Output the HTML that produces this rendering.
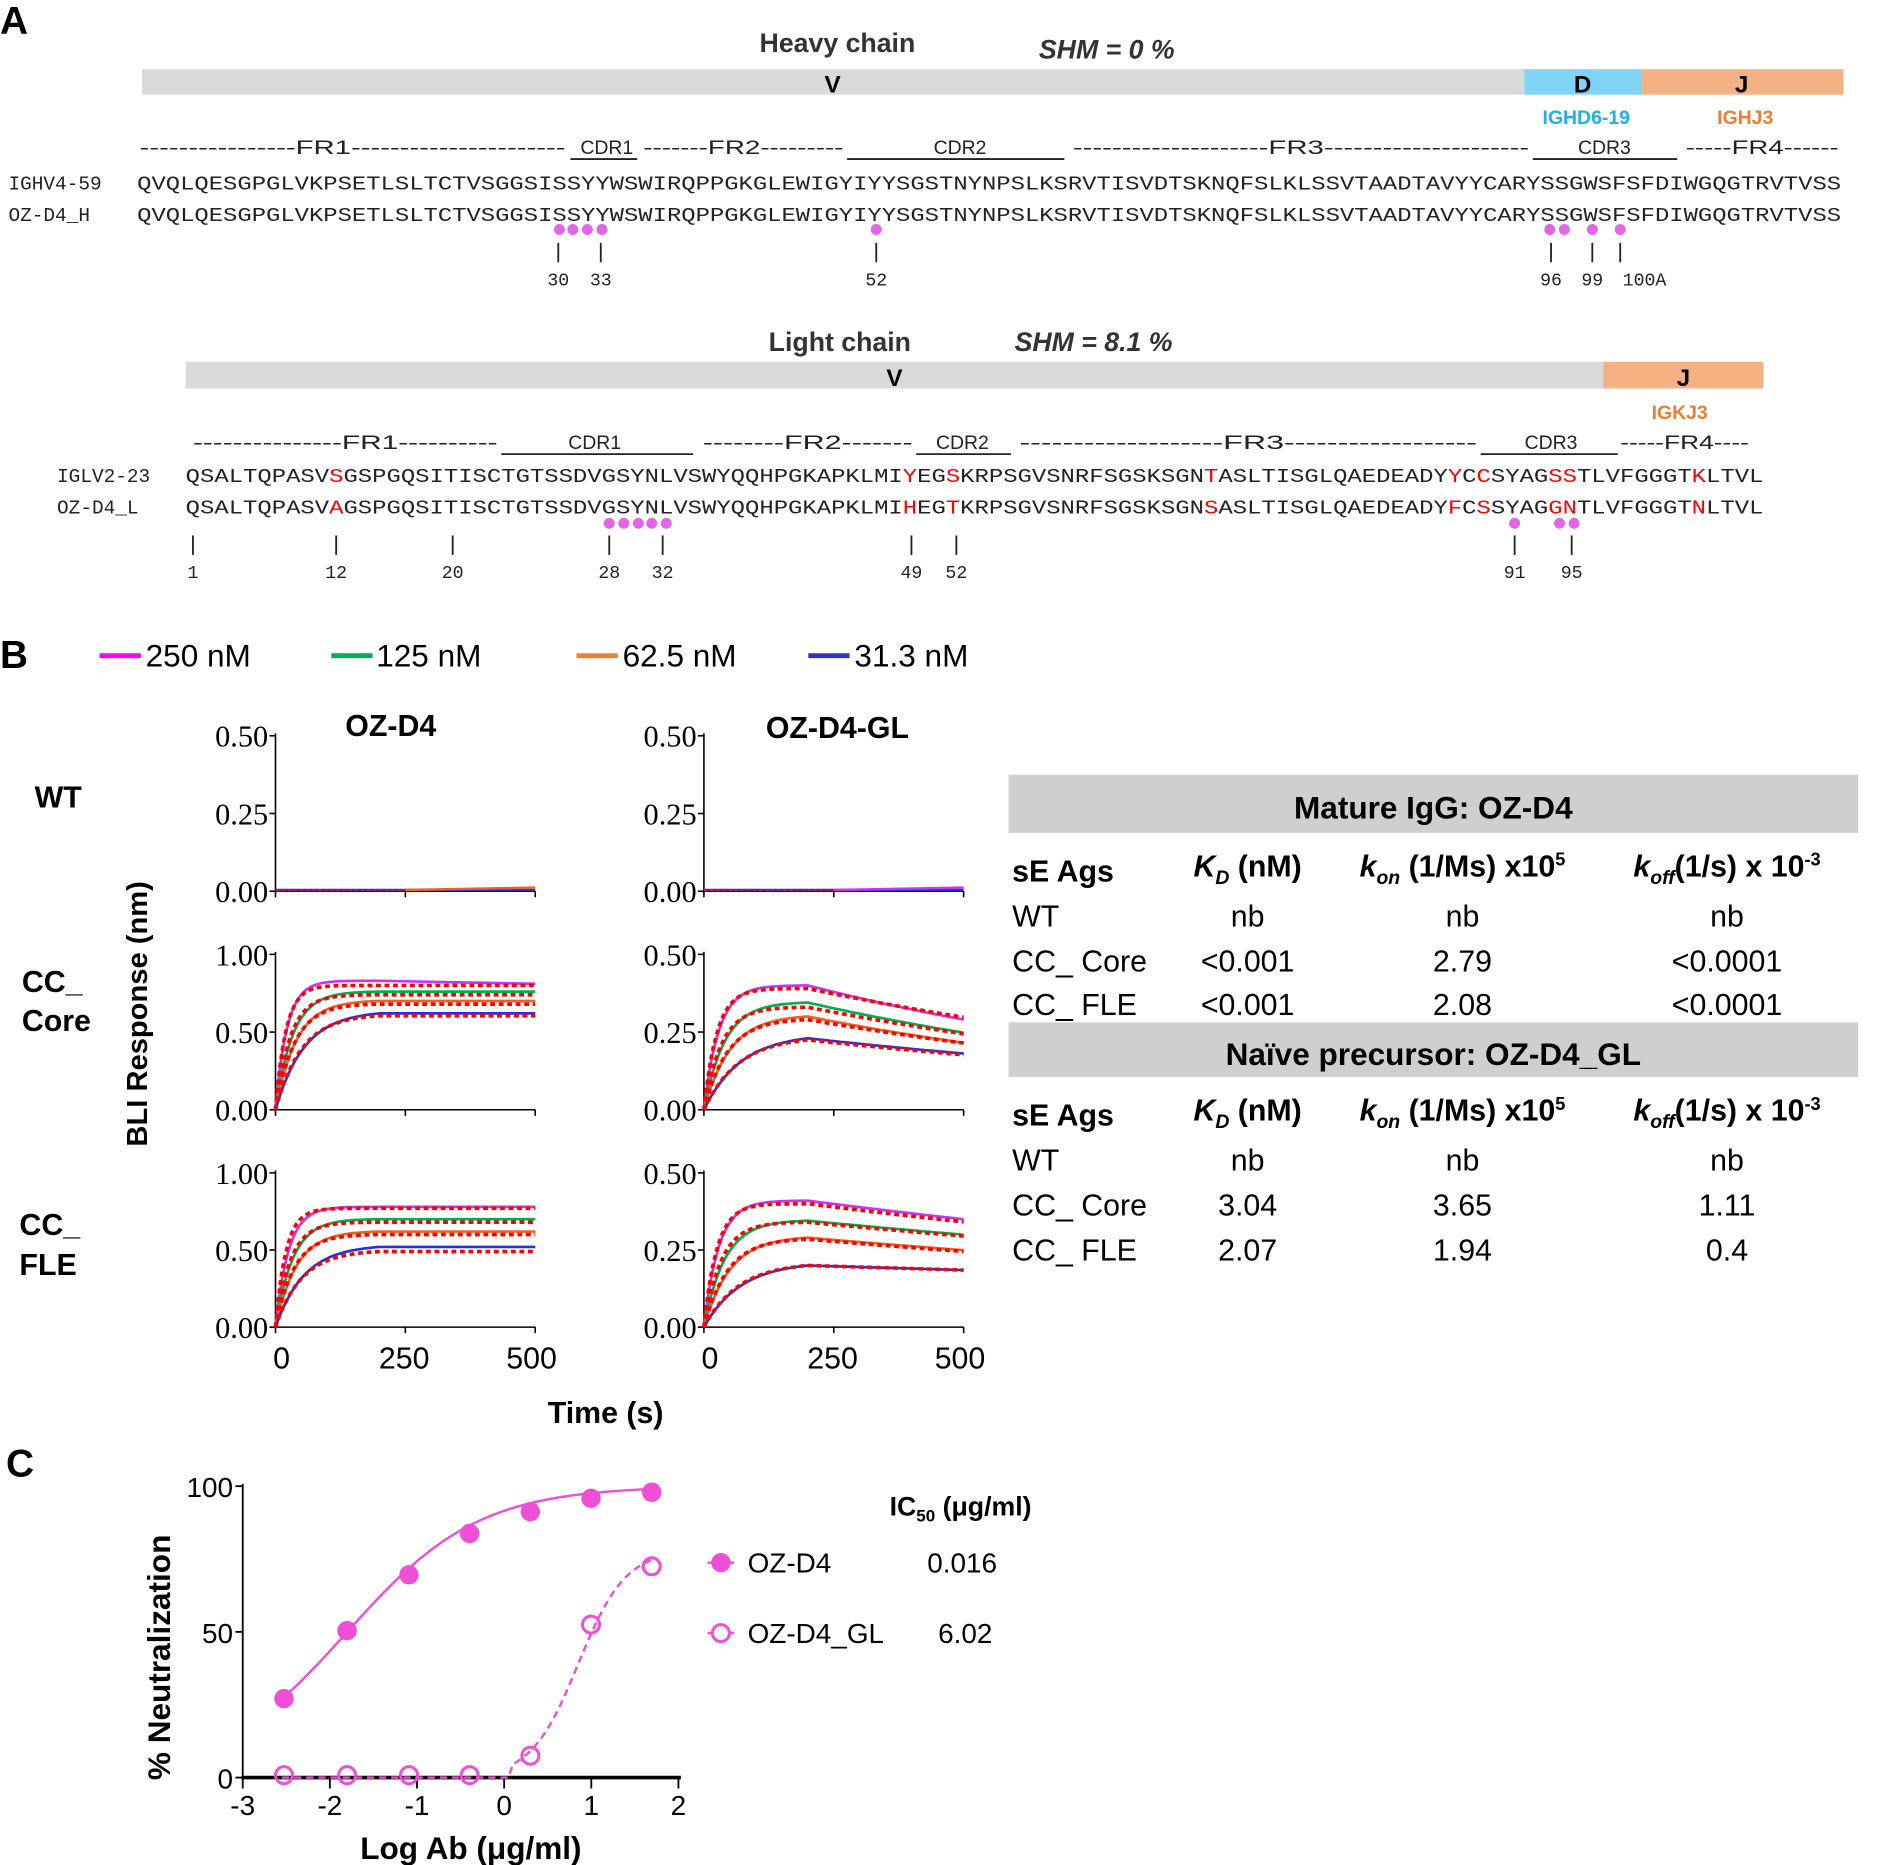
<!DOCTYPE html>
<html><head><meta charset="utf-8">
<style>
html,body{margin:0;padding:0;background:#fff;}
svg{display:block;}
.s{font-family:"Liberation Sans",sans-serif;}
.m{font-family:"Liberation Mono",monospace;}
.b{font-weight:bold;}
</style></head>
<body>
<svg id="svg" width="1903" height="1865" viewBox="0 0 1568 1536" preserveAspectRatio="none" xmlns="http://www.w3.org/2000/svg" class="s">
<!-- Panel A -->
<text x="0" y="28" font-size="32" class="b">A</text>
<text x="690" y="43" font-size="22" class="b" fill="#333" text-anchor="middle">Heavy chain</text>
<text x="856" y="48" font-size="22" class="b" fill="#333" font-style="italic">SHM = 0 %</text>
<rect x="117" y="57" width="1139" height="21" fill="#d9d9d9"/>
<rect x="1256" y="57" width="97" height="21" fill="#7fd3f7"/>
<rect x="1353" y="57" width="166" height="21" fill="#f4b183"/>
<text x="686" y="76" font-size="20" class="b" text-anchor="middle">V</text>
<text x="1304" y="76" font-size="20" class="b" text-anchor="middle">D</text>
<text x="1435" y="76" font-size="20" class="b" text-anchor="middle">J</text>
<text x="1307" y="102" font-size="16" class="b" fill="#1ab0e8" text-anchor="middle">IGHD6-19</text>
<text x="1438" y="102" font-size="16" class="b" fill="#ed7d31" text-anchor="middle">IGHJ3</text>
<g font-size="16" fill="#222">
<text x="115" y="127" textLength="351" lengthAdjust="spacingAndGlyphs">----------------FR1----------------------</text>
<text x="500" y="127" text-anchor="middle">CDR1</text><line x1="470" y1="131" x2="525" y2="131" stroke="#222" stroke-width="1.5"/>
<text x="530" y="127" textLength="165" lengthAdjust="spacingAndGlyphs">-------FR2---------</text>
<text x="791" y="127" text-anchor="middle">CDR2</text><line x1="698" y1="131" x2="877" y2="131" stroke="#222" stroke-width="1.5"/>
<text x="884" y="127" textLength="376" lengthAdjust="spacingAndGlyphs">--------------------FR3---------------------</text>
<text x="1322" y="127" text-anchor="middle">CDR3</text><line x1="1263" y1="131" x2="1382" y2="131" stroke="#222" stroke-width="1.5"/>
<text x="1389" y="127" textLength="126" lengthAdjust="spacingAndGlyphs">-----FR4------</text>
</g>
<g class="m" font-size="16" fill="#222">
<text x="7" y="156">IGHV4-59</text>
<text x="113" y="156" textLength="1404" lengthAdjust="spacingAndGlyphs">QVQLQESGPGLVKPSETLSLTCTVSGGSISSYYWSWIRQPPGKGLEWIGYIYYSGSTNYNPSLKSRVTISVDTSKNQFSLKLSSVTAADTAVYYCARYSSGWSFSFDIWGQGTRVTVSS</text>
<text x="7" y="182">OZ-D4_H</text>
<text x="113" y="182" textLength="1404" lengthAdjust="spacingAndGlyphs">QVQLQESGPGLVKPSETLSLTCTVSGGSISSYYWSWIRQPPGKGLEWIGYIYYSGSTNYNPSLKSRVTISVDTSKNQFSLKLSSVTAADTAVYYCARYSSGWSFSFDIWGQGTRVTVSS</text>
</g>
<g fill="#e066e6">
<circle cx="461" cy="189" r="4.5"/><circle cx="472" cy="189" r="4.5"/><circle cx="484" cy="189" r="4.5"/><circle cx="496" cy="189" r="4.5"/>
<circle cx="722" cy="189" r="4.5"/><circle cx="1277" cy="189" r="4.5"/><circle cx="1289" cy="189" r="4.5"/><circle cx="1312" cy="189" r="4.5"/><circle cx="1335" cy="189" r="4.5"/>
</g>
<g stroke="#222" stroke-width="1.5">
<line x1="460" y1="200" x2="460" y2="216"/><line x1="495" y1="200" x2="495" y2="216"/><line x1="722" y1="200" x2="722" y2="216"/>
<line x1="1278" y1="200" x2="1278" y2="216"/><line x1="1312" y1="200" x2="1312" y2="216"/><line x1="1335" y1="200" x2="1335" y2="216"/>
</g>
<g class="m" font-size="15" fill="#222" text-anchor="middle">
<text x="460" y="235">30</text><text x="495" y="235">33</text><text x="722" y="235">52</text>
<text x="1278" y="235">96</text><text x="1312" y="235">99</text><text x="1355" y="235">100A</text>
</g>

<text x="692" y="289" font-size="22" class="b" fill="#333" text-anchor="middle">Light chain</text>
<text x="836" y="289" font-size="22" class="b" fill="#333" font-style="italic">SHM = 8.1 %</text>
<rect x="153" y="298" width="1168" height="22" fill="#d9d9d9"/>
<rect x="1321" y="298" width="132" height="22" fill="#f4b183"/>
<text x="737" y="318" font-size="20" class="b" text-anchor="middle">V</text>
<text x="1387" y="318" font-size="20" class="b" text-anchor="middle">J</text>
<text x="1384" y="345" font-size="16" class="b" fill="#ed7d31" text-anchor="middle">IGKJ3</text>
<g font-size="16" fill="#222">
<text x="159" y="370" textLength="251" lengthAdjust="spacingAndGlyphs">---------------FR1----------</text>
<text x="490" y="370" text-anchor="middle">CDR1</text><line x1="413" y1="374" x2="571" y2="374" stroke="#222" stroke-width="1.5"/>
<text x="579" y="370" textLength="173" lengthAdjust="spacingAndGlyphs">--------FR2-------</text>
<text x="793" y="370" text-anchor="middle">CDR2</text><line x1="755" y1="374" x2="833" y2="374" stroke="#222" stroke-width="1.5"/>
<text x="840" y="370" textLength="377" lengthAdjust="spacingAndGlyphs">-------------------FR3------------------</text>
<text x="1278" y="370" text-anchor="middle">CDR3</text><line x1="1220" y1="374" x2="1333" y2="374" stroke="#222" stroke-width="1.5"/>
<text x="1335" y="370" textLength="106" lengthAdjust="spacingAndGlyphs">-----FR4----</text>
</g>
<g class="m" font-size="16" fill="#222">
<text x="47" y="397">IGLV2-23</text>
<text x="153" y="397" textLength="1300" lengthAdjust="spacingAndGlyphs">QSALTQPASV<tspan fill="#f00">S</tspan>GSPGQSITISCTGTSSDVGSYNLVSWYQQHPGKAPKLMI<tspan fill="#f00">Y</tspan>EG<tspan fill="#f00">S</tspan>KRPSGVSNRFSGSKSGN<tspan fill="#f00">T</tspan>ASLTISGLQAEDEADY<tspan fill="#f00">Y</tspan>C<tspan fill="#f00">C</tspan>SYAG<tspan fill="#f00">SS</tspan>TLVFGGGT<tspan fill="#f00">K</tspan>LTVL</text>
<text x="47" y="423">OZ-D4_L</text>
<text x="153" y="423" textLength="1300" lengthAdjust="spacingAndGlyphs">QSALTQPASV<tspan fill="#f00">A</tspan>GSPGQSITISCTGTSSDVGSYNLVSWYQQHPGKAPKLMI<tspan fill="#f00">H</tspan>EG<tspan fill="#f00">T</tspan>KRPSGVSNRFSGSKSGN<tspan fill="#f00">S</tspan>ASLTISGLQAEDEADY<tspan fill="#f00">F</tspan>C<tspan fill="#f00">S</tspan>SYAG<tspan fill="#f00">GN</tspan>TLVFGGGT<tspan fill="#f00">N</tspan>LTVL</text>
</g>
<g fill="#e066e6">
<circle cx="502" cy="431" r="4.5"/><circle cx="514" cy="431" r="4.5"/><circle cx="526" cy="431" r="4.5"/><circle cx="537" cy="431" r="4.5"/><circle cx="549" cy="431" r="4.5"/>
<circle cx="1248" cy="431" r="4.5"/><circle cx="1285" cy="431" r="4.5"/><circle cx="1297" cy="431" r="4.5"/>
</g>
<g stroke="#222" stroke-width="1.5">
<line x1="159" y1="441" x2="159" y2="457"/><line x1="277" y1="441" x2="277" y2="457"/><line x1="373" y1="441" x2="373" y2="457"/>
<line x1="502" y1="441" x2="502" y2="457"/><line x1="546" y1="441" x2="546" y2="457"/><line x1="751" y1="441" x2="751" y2="457"/>
<line x1="788" y1="441" x2="788" y2="457"/><line x1="1248" y1="441" x2="1248" y2="457"/><line x1="1295" y1="441" x2="1295" y2="457"/>
</g>
<g class="m" font-size="15" fill="#222" text-anchor="middle">
<text x="159" y="476">1</text><text x="277" y="476">12</text><text x="373" y="476">20</text><text x="502" y="476">28</text><text x="546" y="476">32</text>
<text x="751" y="476">49</text><text x="788" y="476">52</text><text x="1248" y="476">91</text><text x="1295" y="476">95</text>
</g>

<!-- Panel B -->
<text x="0" y="550" font-size="32" class="b">B</text>
<g stroke-width="4">
<line x1="82" y1="540" x2="116" y2="540" stroke="#ff00ff"/>
<line x1="273" y1="540" x2="307" y2="540" stroke="#00b050"/>
<line x1="475" y1="540" x2="509" y2="540" stroke="#f08030"/>
<line x1="666" y1="540" x2="700" y2="540" stroke="#3333cc"/>
</g>
<g font-size="26">
<text x="120" y="549">250 nM</text><text x="310" y="549">125 nM</text><text x="513" y="549">62.5 nM</text><text x="704" y="549">31.3 nM</text>
</g>
<text x="322" y="606" font-size="25" class="b" text-anchor="middle">OZ-D4</text>
<text x="690" y="608" font-size="25" class="b" text-anchor="middle">OZ-D4-GL</text>
<text x="48" y="665" font-size="25" class="b" text-anchor="middle">WT</text>
<text x="18" y="817" font-size="25" class="b">CC_</text>
<text x="18" y="849" font-size="25" class="b">Core</text>
<text x="16" y="1017" font-size="25" class="b">CC_</text>
<text x="16" y="1050" font-size="25" class="b">FLE</text>
<text transform="translate(121,835) rotate(-90)" font-size="24" class="b" text-anchor="middle">BLI Response (nm)</text>
<text x="499" y="1172" font-size="25" class="b" text-anchor="middle">Time (s)</text>
<g id="plots"></g>

<!-- Table -->
<rect x="831" y="638" width="700" height="48" fill="#d0cece"/>
<text x="1181" y="674" font-size="26" class="b" text-anchor="middle">Mature IgG: OZ-D4</text>
<rect x="831" y="842" width="700" height="45" fill="#d0cece"/>
<text x="1181" y="877" font-size="26" class="b" text-anchor="middle">Naïve precursor: OZ-D4_GL</text>
<g font-size="25">
<g class="b">
<text x="834" y="726">sE Ags</text>
<text x="1028" y="722" text-anchor="middle"><tspan font-style="italic">K<tspan font-size="16" dy="6">D</tspan></tspan><tspan dy="-6"> (nM)</tspan></text>
<text x="1205" y="722" text-anchor="middle"><tspan font-style="italic">k<tspan font-size="16" dy="6">on</tspan></tspan><tspan dy="-6"> (1/Ms) x10</tspan><tspan font-size="15" dy="-9">5</tspan></text>
<text x="1423" y="722" text-anchor="middle"><tspan font-style="italic">k<tspan font-size="16" dy="6">off</tspan></tspan><tspan dy="-6">(1/s) x 10</tspan><tspan font-size="15" dy="-9">-3</tspan></text>
<text x="834" y="927">sE Ags</text>
<text x="1028" y="923" text-anchor="middle"><tspan font-style="italic">K<tspan font-size="16" dy="6">D</tspan></tspan><tspan dy="-6"> (nM)</tspan></text>
<text x="1205" y="923" text-anchor="middle"><tspan font-style="italic">k<tspan font-size="16" dy="6">on</tspan></tspan><tspan dy="-6"> (1/Ms) x10</tspan><tspan font-size="15" dy="-9">5</tspan></text>
<text x="1423" y="923" text-anchor="middle"><tspan font-style="italic">k<tspan font-size="16" dy="6">off</tspan></tspan><tspan dy="-6">(1/s) x 10</tspan><tspan font-size="15" dy="-9">-3</tspan></text>
</g>
<text x="834" y="763">WT</text><text x="1028" y="763" text-anchor="middle">nb</text><text x="1205" y="763" text-anchor="middle">nb</text><text x="1423" y="763" text-anchor="middle">nb</text>
<text x="834" y="800">CC_ Core</text><text x="1028" y="800" text-anchor="middle">&lt;0.001</text><text x="1205" y="800" text-anchor="middle">2.79</text><text x="1423" y="800" text-anchor="middle">&lt;0.0001</text>
<text x="834" y="836">CC_ FLE</text><text x="1028" y="836" text-anchor="middle">&lt;0.001</text><text x="1205" y="836" text-anchor="middle">2.08</text><text x="1423" y="836" text-anchor="middle">&lt;0.0001</text>
<text x="834" y="964">WT</text><text x="1028" y="964" text-anchor="middle">nb</text><text x="1205" y="964" text-anchor="middle">nb</text><text x="1423" y="964" text-anchor="middle">nb</text>
<text x="834" y="1001">CC_ Core</text><text x="1028" y="1001" text-anchor="middle">3.04</text><text x="1205" y="1001" text-anchor="middle">3.65</text><text x="1423" y="1001" text-anchor="middle">1.11</text>
<text x="834" y="1038">CC_ FLE</text><text x="1028" y="1038" text-anchor="middle">2.07</text><text x="1205" y="1038" text-anchor="middle">1.94</text><text x="1423" y="1038" text-anchor="middle">0.4</text>
</g>

<!-- Panel C -->
<text x="5" y="1216" font-size="32" class="b">C</text>
<line x1="200" y1="1222" x2="200" y2="1465" stroke="#000" stroke-width="1.5"/>
<line x1="199" y1="1464" x2="561" y2="1464" stroke="#000" stroke-width="3"/>
<g stroke="#000" stroke-width="1.5">
<line x1="194" y1="1224" x2="200" y2="1224"/><line x1="194" y1="1344" x2="200" y2="1344"/><line x1="194" y1="1464" x2="200" y2="1464"/>
<line x1="200" y1="1464" x2="200" y2="1473"/><line x1="271.8" y1="1464" x2="271.8" y2="1473"/><line x1="343.6" y1="1464" x2="343.6" y2="1473"/>
<line x1="415.4" y1="1464" x2="415.4" y2="1473"/><line x1="487.2" y1="1464" x2="487.2" y2="1473"/><line x1="559" y1="1464" x2="559" y2="1473"/>
</g>
<g font-size="23" text-anchor="end">
<text x="192" y="1233">100</text><text x="192" y="1353">50</text><text x="192" y="1473">0</text>
</g>
<g font-size="23" text-anchor="middle">
<text x="200" y="1495">-3</text><text x="271.8" y="1495">-2</text><text x="343.6" y="1495">-1</text><text x="415.4" y="1495">0</text><text x="487.2" y="1495">1</text><text x="559" y="1495">2</text>
</g>
<text transform="translate(140,1365) rotate(-90)" font-size="26" class="b" text-anchor="middle">% Neutralization</text>
<text x="388" y="1531" font-size="26" class="b" text-anchor="middle">Log Ab (μg/ml)</text>
<g id="neut"></g>
<text x="733" y="1248" font-size="22" class="b">IC<tspan font-size="14" dy="5">50</tspan><tspan dy="-5"> (μg/ml)</tspan></text>
<line x1="583" y1="1287" x2="605" y2="1287" stroke="#ee4fd6" stroke-width="2"/>
<circle cx="594" cy="1287" r="8" fill="#ee4fd6"/>
<line x1="583" y1="1345" x2="605" y2="1345" stroke="#ee4fd6" stroke-width="2"/>
<circle cx="594" cy="1345" r="7" fill="#fff" stroke="#ee4fd6" stroke-width="2.5"/>
<g font-size="23">
<text x="616" y="1295">OZ-D4</text><text x="764" y="1295">0.016</text>
<text x="616" y="1353">OZ-D4_GL</text><text x="773" y="1353">6.02</text>
</g>
</svg>
<script>
(function(){
var NS="http://www.w3.org/2000/svg";
var plots=document.getElementById('plots');
function el(n,a,p){var e=document.createElementNS(NS,n);for(var k in a)e.setAttribute(k,a[k]);(p||plots).appendChild(e);return e;}
function txt(x,y,s,anchor,size,fam){var t=el('text',{x:x,y:y,'text-anchor':anchor,'font-size':size,'font-family':fam||'"Liberation Sans",sans-serif'});t.textContent=s;}
var cols=[227,580], rows=[[606,734],[786,914],[966,1093]];
var ylabs=[[["0.50","0.25","0.00"],["0.50","0.25","0.00"]],[["1.00","0.50","0.00"],["0.50","0.25","0.00"]],[["1.00","0.50","0.00"],["0.50","0.25","0.00"]]];
var colors=["#cc33ee","#00b050","#f06020","#2233dd"];
var data={
 "1,0":{c:[[0.83,0.045,0.00008],[0.76,0.03,0],[0.70,0.025,0],[0.62,0.018,0]],f:[[0.80,0.05,0],[0.74,0.035,0],[0.68,0.027,0],[0.605,0.02,0]],max:1},
 "2,0":{c:[[0.78,0.04,0],[0.70,0.03,0],[0.62,0.025,0],[0.52,0.018,0]],f:[[0.77,0.05,0],[0.68,0.035,0],[0.60,0.028,0],[0.49,0.02,0]],max:1},
 "1,1":{c:[[0.40,0.035,0.00107],[0.345,0.025,0.0011],[0.30,0.02,0.0011],[0.23,0.014,0.0008]],f:[[0.39,0.04,0.0009],[0.33,0.03,0.001],[0.29,0.022,0.001],[0.225,0.015,0.0008]],max:0.5},
 "2,1":{c:[[0.41,0.035,0.00053],[0.345,0.025,0.00047],[0.29,0.02,0.0005],[0.20,0.014,0.00026]],f:[[0.40,0.04,0.00053],[0.34,0.03,0.00047],[0.285,0.022,0.0005],[0.20,0.015,0.00026]],max:0.5}
};
for(var r=0;r<3;r++)for(var c=0;c<2;c++){
 var x0=cols[c], x1=x0+214, yt=rows[r][0], yb=rows[r][1];
 el('line',{x1:x0,y1:yt-2,x2:x0,y2:yb+1,stroke:'#000','stroke-width':1.3});
 el('line',{x1:x0,y1:yb,x2:x1,y2:yb,stroke:'#000','stroke-width':1.3});
 [yt,(yt+yb)/2,yb].forEach(function(y,i){el('line',{x1:x0-5,y1:y,x2:x0,y2:y,stroke:'#000','stroke-width':1.3});
   txt(x0-6,y+9,ylabs[r][c][i],'end',25,'"Liberation Serif",serif');});
 [0,107,214].forEach(function(dx){el('line',{x1:x0+dx,y1:yb,x2:x0+dx,y2:yb+5,stroke:'#000','stroke-width':1.3});});
 if(r==2){txt(x0+5,1127,"0",'middle',25);txt(x0+106,1127,"250",'middle',25);txt(x0+211,1127,"500",'middle',25);}
 var d=data[r+","+c];
 if(!d){
   el('line',{x1:x0,y1:yb-1,x2:x1,y2:yb-1,stroke:'#2233dd','stroke-width':2});
   el('path',{d:'M'+(x0+107)+' '+(yb-1)+' L'+x1+' '+(yb-3),stroke:c?'#cc33ee':'#f06020','stroke-width':2,fill:'none'});
   el('line',{x1:x0,y1:yb-1,x2:x0+107,y2:yb-1,stroke:'#f00','stroke-width':1.5,'stroke-dasharray':'3 2'});
   continue;}
 var sc=(yb-yt)/d.max;
 function path(p){var peak=p[0],k=p[1],kd=p[2],Req=peak/(1-Math.exp(-200*k)),s='';
   for(var t=0;t<=500;t+=4){var v=t<=200?Req*(1-Math.exp(-k*t)):peak*Math.exp(-kd*(t-200));
     s+=(t?'L':'M')+(x0+t/500*214).toFixed(1)+' '+(yb-v*sc).toFixed(1);}return s;}
 d.c.forEach(function(p,i){el('path',{d:path(p),stroke:colors[i],'stroke-width':2.2,fill:'none'});});
 d.f.forEach(function(p){el('path',{d:path(p),stroke:'#ff0000','stroke-width':3,fill:'none','stroke-dasharray':'4 3'});});
}
var g=document.getElementById('neut');
function px(x){return 200+(x+3)*71.8;} function py(p){return 1464-p*2.4;}
var s1='',s2='';
for(var x=-2.55;x<=1.71;x+=0.05){var p=100/(1+Math.pow(10,(-1.8-x)*0.575));s1+=(s1?'L':'M')+px(x).toFixed(1)+' '+py(p).toFixed(1);}
for(var x=-2.55;x<=1.71;x+=0.05){var p=78/(1+Math.pow(10,(0.85-x)*1.6));if(x<0.05)p=0;s2+=(s2?'L':'M')+px(x).toFixed(1)+' '+py(p).toFixed(1);}
el('path',{d:s1,stroke:'#ee4fd6','stroke-width':2,fill:'none'},g);
el('path',{d:s2,stroke:'#ee4fd6','stroke-width':2,fill:'none','stroke-dasharray':'6 4'},g);
[[234,1399],[286,1343],[337,1297],[387,1263],[437,1245],[487,1234],[537,1229]].forEach(function(q){el('circle',{cx:q[0],cy:q[1],r:8,fill:'#ee4fd6'},g);});
[[234,1462],[286,1462],[337,1462],[387,1462],[437,1446],[487,1338],[537,1290]].forEach(function(q){el('circle',{cx:q[0],cy:q[1],r:7,fill:'none',stroke:'#ee4fd6','stroke-width':2.5},g);});
})();
</script>
</body></html>
